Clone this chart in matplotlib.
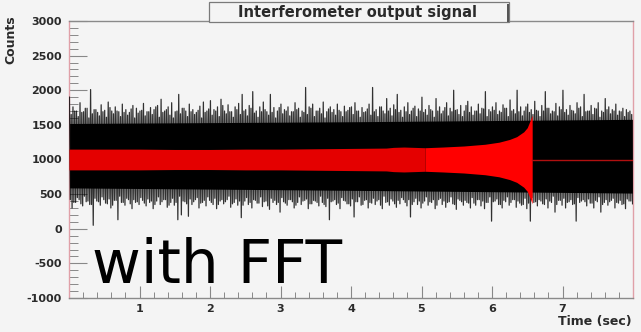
import numpy as np
import matplotlib
matplotlib.use("Agg")
import matplotlib.pyplot as plt
from matplotlib.ticker import MultipleLocator
from matplotlib.patches import Rectangle

# ---------------- data ----------------
# noise spike extremes, sampled every 0.05 s starting at 0.025 s
noise_t0 = 0.025
noise_dt = 0.05
noise_upper = [
    1900, 1760, 1700, 1820, 1690, 1740, 2010, 1720, 1680, 1790, 1710, 1830, 1700, 1760, 1690, 1800, 1720, 1680, 1780, 1740,
    1700, 1810, 1690, 1750, 1720, 1780, 1870, 1700, 1760, 1820, 1690, 1940, 1740, 1700, 1800, 1720, 1680, 1770, 1830, 1700,
    1850, 1720, 1760, 1870, 1700, 1790, 1690, 1760, 1810, 1940, 1720, 1780, 1980, 1700, 1760, 1830, 1690, 1940, 1750, 1700,
    1800, 1720, 1760, 1690, 1820, 1740, 1700, 2040, 1760, 1800, 1700, 1740, 1830, 1690, 1760, 1720, 1800, 1690, 1770, 1710,
    1760, 1820, 1700, 1750, 1690, 1800, 2040, 1720, 1760, 1700, 1880, 1740, 1790, 1940, 1710, 1760, 1820, 1700, 1770, 1730,
    1900, 1720, 1780, 1700, 1880, 1760, 1700, 1820, 1740, 2000, 1720, 1780, 1700, 1840, 1760, 1700, 1800, 1740, 1980, 1720,
    1760, 1820, 1700, 1790, 1740, 1860, 1720, 2000, 1760, 1700, 1800, 1720, 1840, 1700, 1780, 1980, 1740, 1700, 1810, 1760,
    2000, 1720, 1780, 1700, 1820, 1760, 1940, 1700, 1780, 1740, 1820, 1700, 1880, 1760, 1720, 1800, 1700, 1740, 1720, 1700,
]
noise_lower = [
    300, 380, 420, 330, 390, 350, 50, 400, 340, 420, 360, 300, 410, 130, 380, 340, 420, 290, 380, 350,
    410, 330, 380, 290, 400, 350, 420, 310, 380, 340, 130, 200, 390, 180, 350, 420, 300, 380, 330, 410,
    350, 290, 400, 360, 420, 310, 380, 340, 160, 400, 350, 300, 410, 370, 320, 400, 280, 380, 350, 240,
    390, 340, 420, 300, 380, 350, 410, 290, 360, 400, 330, 380, 320, 130, 400, 350, 290, 410, 360, 330,
    170, 390, 340, 410, 300, 370, 350, 420, 290, 380, 340, 400, 310, 360, 420, 330, 170, 390, 350, 300,
    400, 340, 380, 290, 420, 350, 310, 390, 360, 280, 410, 340, 380, 300, 370, 420, 330, 290, 380, 110,
    400, 350, 300, 390, 340, 420, 310, 370, 350, 290, 110, 380, 330, 400, 350, 300, 380, 240, 410, 340,
    300, 390, 350, 110, 380, 420, 330, 370, 300, 390, 240, 380, 340, 410, 300, 370, 350, 290, 400, 360,
]
# secondary (smaller) excursions between the big ones
noise_upper2 = [
    1650, 1700, 1620, 1680, 1740, 1600, 1660, 1720, 1630, 1690, 1610, 1750, 1660, 1700, 1620, 1680, 1640, 1730, 1600, 1670,
    1710, 1630, 1690, 1650, 1760, 1610, 1680, 1720, 1640, 1600, 1700, 1660, 1740, 1620, 1690, 1650, 1710, 1600, 1680, 1730,
    1640, 1700, 1620, 1780, 1660, 1690, 1610, 1720, 1650, 1700, 1630, 1740, 1670, 1610, 1690, 1720, 1640, 1680, 1600, 1750,
    1660, 1700, 1630, 1690, 1720, 1610, 1680, 1650, 1740, 1620, 1700, 1660, 1600, 1730, 1680, 1640, 1710, 1620, 1690, 1750,
    1650, 1700, 1610, 1680, 1730, 1640, 1690, 1620, 1760, 1660, 1700, 1630, 1720, 1680, 1610, 1690, 1650, 1740, 1620, 1700,
    1680, 1640, 1720, 1610, 1700, 1660, 1750, 1630, 1690, 1710, 1650, 1620, 1780, 1680, 1640, 1700, 1660, 1730, 1620, 1690,
    1710, 1650, 1680, 1740, 1620, 1700, 1660, 1690, 1630, 1760, 1680, 1650, 1710, 1620, 1700, 1740, 1660, 1690, 1630, 1720,
    1680, 1640, 1710, 1660, 1740, 1620, 1690, 1700, 1650, 1730, 1610, 1680, 1720, 1660, 1700, 1640, 1690, 1620, 1680, 1650,
]
noise_lower2 = [
    420, 380, 450, 360, 470, 400, 350, 440, 390, 460, 370, 430, 340, 410, 470, 380, 440, 360, 420, 390,
    450, 370, 430, 400, 350, 460, 390, 420, 340, 440, 380, 470, 400, 360, 430, 390, 450, 370, 410, 460,
    380, 440, 350, 420, 390, 470, 360, 430, 400, 340, 450, 380, 420, 370, 460, 390, 330, 440, 410, 380,
    450, 370, 420, 390, 340, 460, 400, 430, 360, 410, 380, 470, 350, 440, 390, 420, 370, 450, 400, 360,
    430, 390, 460, 350, 420, 380, 440, 400, 340, 470, 390, 430, 360, 410, 450, 380, 420, 350, 440, 400,
    370, 460, 390, 420, 340, 440, 400, 380, 460, 350, 430, 390, 410, 370, 450, 340, 420, 400, 380, 460,
    390, 430, 350, 410, 460, 380, 420, 400, 340, 440, 370, 450, 390, 420, 360, 430, 400, 470, 350, 410,
    440, 380, 420, 360, 450, 400, 390, 430, 370, 410, 460, 350, 420, 390, 440, 380, 410, 360, 430, 400,
]
# solid core of the noise band
core_t = [0.0, 4.0, 8.0]
core_hi = [1520, 1545, 1580]
core_lo = [590, 555, 515]

# red chirp envelope (amplitude around the 1000 baseline)
chirp_t = [0.0, 0.5, 1.0, 1.5, 2.0, 2.5, 3.0, 3.5, 4.0, 4.5, 4.6, 4.75, 4.9, 5.05,
           5.3, 5.6, 5.9, 6.1, 6.25, 6.35, 6.45, 6.5, 6.54, 6.57]
chirp_amp = [150, 150, 150, 145, 145, 150, 150, 155, 160, 165, 175, 180, 175, 170,
             180, 195, 220, 250, 290, 330, 400, 460, 560, 640]
baseline = 1000
chirp_end = 6.57
t_max = 8.0

# ---------------- figure ----------------
bg = "#f4f4f4"
fig = plt.figure(figsize=(6.41, 3.32), dpi=100, facecolor=bg)
ax = fig.add_axes([69 / 641, 34 / 332, 564 / 641, 277 / 332], facecolor=bg)

ax.set_xlim(0, 8)
ax.set_ylim(-1000, 3000)

# noise band
ax.fill_between(core_t, core_lo, core_hi, color="black", lw=0, zorder=2)
n = len(noise_upper)
tz, yz = [], []
q = noise_dt / 4
for i in range(n):
    t = noise_t0 + noise_dt * i
    tz += [t - 1.5 * q, t - 0.5 * q, t + 0.5 * q, t + 1.5 * q]
    yz += [noise_upper[i], noise_lower2[i], noise_upper2[i], noise_lower[i]]
ax.plot(tz, yz, color="black", lw=0.9, alpha=0.8, zorder=3)

# red chirp envelope
ct = np.array(chirp_t)
ca = np.array(chirp_amp)
early = ct <= 5.05
ax.fill_between(ct[early], baseline - ca[early], baseline + ca[early],
                color="#e40000", lw=0, zorder=4)
late = ct >= 5.05
ax.fill_between(ct[late], baseline - ca[late], baseline + ca[late],
                color="#ff0000", lw=0, zorder=4)
ax.plot([chirp_end, t_max], [baseline, baseline], color="#b01010", lw=1.0, zorder=5)

# axes styling (ROOT-like)
for s in ("left", "right"):
    ax.spines[s].set_color("#e0a0a8")
    ax.spines[s].set_linewidth(1.0)
for s in ("top", "bottom"):
    ax.spines[s].set_color("#8a8a8a")
    ax.spines[s].set_linewidth(1.0)

ax.xaxis.set_major_locator(MultipleLocator(1))
ax.xaxis.set_minor_locator(MultipleLocator(0.2))
ax.yaxis.set_major_locator(MultipleLocator(500))
ax.yaxis.set_minor_locator(MultipleLocator(100))
ax.tick_params(axis="x", which="major", direction="in", length=9, width=0.8,
               color="#888888", pad=4, labelsize=8, labelcolor="#2a2a2a")
ax.tick_params(axis="x", which="minor", direction="in", length=4.5, width=0.7, color="#888888")
ax.tick_params(axis="y", which="major", direction="in", length=13, width=0.8,
               color="#888888", pad=5, labelsize=8, labelcolor="#2a2a2a")
ax.tick_params(axis="y", which="minor", direction="in", length=6.5, width=0.7, color="#888888")
ax.set_xticks([1, 2, 3, 4, 5, 6, 7])
ax.set_xticklabels(["1", "2", "3", "4", "5", "6", "7"])
yt = [-1000, -500, 0, 500, 1000, 1500, 2000, 2500, 3000]
ax.set_yticks(yt)
ax.set_yticklabels([str(v) for v in yt])
for lab in ax.get_xticklabels() + ax.get_yticklabels():
    lab.set_fontweight("bold")
    lab.set_family("DejaVu Sans")

# labels
fig.text(11 / 641, 1 - 15 / 332, "Counts", rotation=90, ha="center", va="top",
         fontsize=9, fontweight="bold", color="#2a2a2a")
fig.text(632 / 641, 1 - 322 / 332, "Time (sec)", ha="right", va="center",
         fontsize=9, fontweight="bold", color="#2a2a2a")

# title box
fig.patches.append(Rectangle((209 / 641, 1 - 22 / 332), 300 / 641, 20 / 332,
                             transform=fig.transFigure, facecolor=bg,
                             edgecolor="#7a7a7a", lw=0.9, zorder=10))
fig.patches.append(Rectangle((507 / 641, 1 - 22 / 332), 2 / 641, 18 / 332,
                             transform=fig.transFigure, facecolor="#555555",
                             edgecolor="none", zorder=11))
fig.text(358 / 641, 1 - 12 / 332, "Interferometer output signal", ha="center", va="center",
         fontsize=10.5, fontweight="bold", color="#2a2a2a", zorder=12)

# overlay text
fig.text(92 / 641, 1 - 283 / 332, "with FFT", ha="left", va="baseline",
         fontsize=43, color="black", family="DejaVu Sans", zorder=20)

fig.savefig("out.png", dpi=100, facecolor=bg)
